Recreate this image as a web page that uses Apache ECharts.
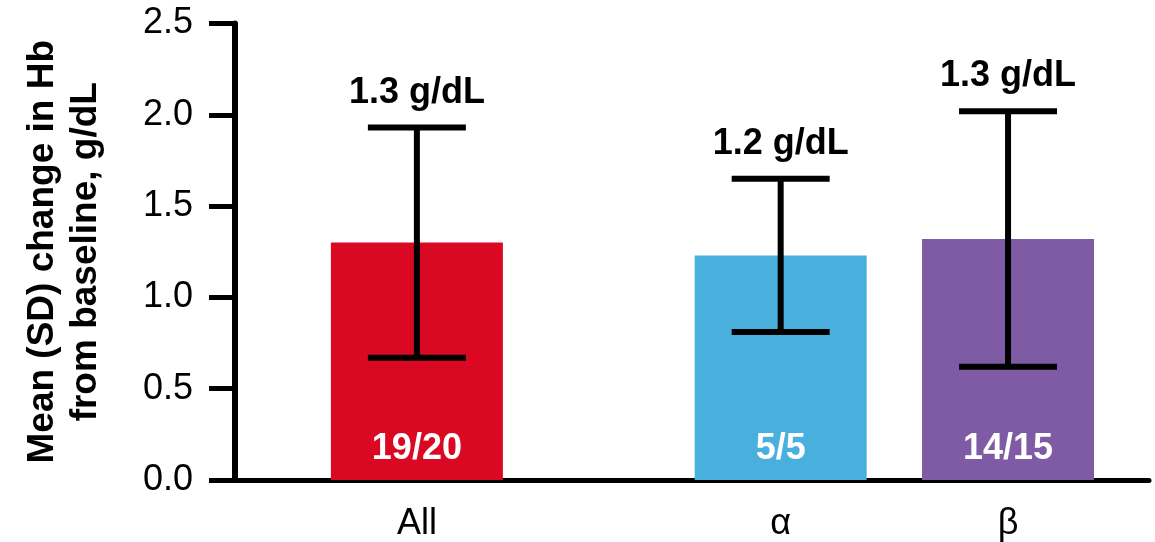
<!DOCTYPE html>
<html>
<head>
<meta charset="utf-8">
<script src="https://cdn.jsdelivr.net/npm/echarts@6/dist/echarts.min.js"></script>
<style>
  html, body { margin: 0; padding: 0; background: #fff; }
  #chart { width: 1155px; height: 542px; }
</style>
</head>
<body>
<div id="chart"></div>
<script>
// Mean (SD) change in Hb from baseline, by group
const groups = ['All', 'α', 'β'];
const groupSlots = [4, 12, 17];          // slot on the 0–20 x scale
const means = [1.30, 1.23, 1.32];
const sds = [0.63, 0.42, 0.70];
const counts = ['19/20', '5/5', '14/15'];
const barColors = ['#DA0822', '#49B0DE', '#7F5AA5'];
const yTicks = [0, 0.5, 1.0, 1.5, 2.0, 2.5];

const FONT = "'Liberation Sans', Arial, sans-serif";
const INK = '#000';

const chart = echarts.init(document.getElementById('chart'), null, { renderer: 'canvas' });

const barData = groups.map((g, i) => ({
  value: [groupSlots[i], means[i]],
  itemStyle: { color: barColors[i] }
}));

const errData = groups.map((g, i) => [groupSlots[i], means[i], sds[i], i]);

function renderError(params, api) {
  const x = api.value(0);
  const m = api.value(1);
  const sd = api.value(2);
  const idx = api.value(3);
  const top = api.coord([x, m + sd]);
  const bot = api.coord([x, m - sd]);
  const base = api.coord([x, 0]);
  const capHalf = 49;
  const lineStyle = { stroke: INK, lineWidth: 6 };
  return {
    type: 'group',
    children: [
      { type: 'line', shape: { x1: top[0], y1: top[1], x2: bot[0], y2: bot[1] }, style: lineStyle },
      { type: 'line', shape: { x1: top[0] - capHalf, y1: top[1], x2: top[0] + capHalf, y2: top[1] }, style: lineStyle },
      { type: 'line', shape: { x1: bot[0] - capHalf, y1: bot[1], x2: bot[0] + capHalf, y2: bot[1] }, style: lineStyle },
      {
        type: 'text',
        style: {
          x: top[0], y: top[1] - 35,
          text: m.toFixed(1) + ' g/dL',
          fill: INK, font: 'bold 36px ' + FONT,
          align: 'center', verticalAlign: 'middle'
        }
      },
      {
        type: 'text',
        style: {
          x: base[0], y: base[1] - 31,
          text: counts[idx],
          fill: '#fff', font: 'bold 36px ' + FONT,
          align: 'center', verticalAlign: 'middle'
        }
      }
    ]
  };
}

chart.setOption({
  animation: false,
  backgroundColor: '#fff',
  grid: { left: 235, right: 6, top: 23.5, bottom: 60.5, containLabel: false },
  xAxis: {
    type: 'value',
    min: 0,
    max: 20.1,
    splitLine: { show: false },
    axisLine: { show: true, onZero: false, lineStyle: { color: INK, width: 5 } },
    axisTick: { show: false },
    axisLabel: {
      customValues: groupSlots,
      formatter: v => groups[groupSlots.indexOf(v)] || '',
      color: INK, fontFamily: FONT, fontSize: 36, margin: 26
    }
  },
  yAxis: {
    type: 'value',
    min: 0,
    max: 2.5,
    interval: 0.5,
    splitLine: { show: false },
    axisLine: { show: true, lineStyle: { color: INK, width: 6 } },
    axisTick: { show: true, length: 26, lineStyle: { color: INK, width: 5 } },
    axisLabel: {
      customValues: yTicks,
      formatter: v => v.toFixed(1),
      color: INK, fontFamily: FONT, fontSize: 36, margin: 42
    },
    name: 'Mean (SD) change in Hb\nfrom baseline, g/dL',
    nameLocation: 'middle',
    nameRotate: 90,
    nameGap: 128,
    nameTextStyle: {
      color: INK, fontFamily: FONT, fontSize: 37, fontWeight: 'bold',
      lineHeight: 43, align: 'center'
    }
  },
  series: [
    {
      type: 'bar',
      data: barData,
      barWidth: 172,
      z: 2
    },
    {
      type: 'custom',
      data: errData,
      renderItem: renderError,
      z: 3
    }
  ]
});
</script>
</body>
</html>
